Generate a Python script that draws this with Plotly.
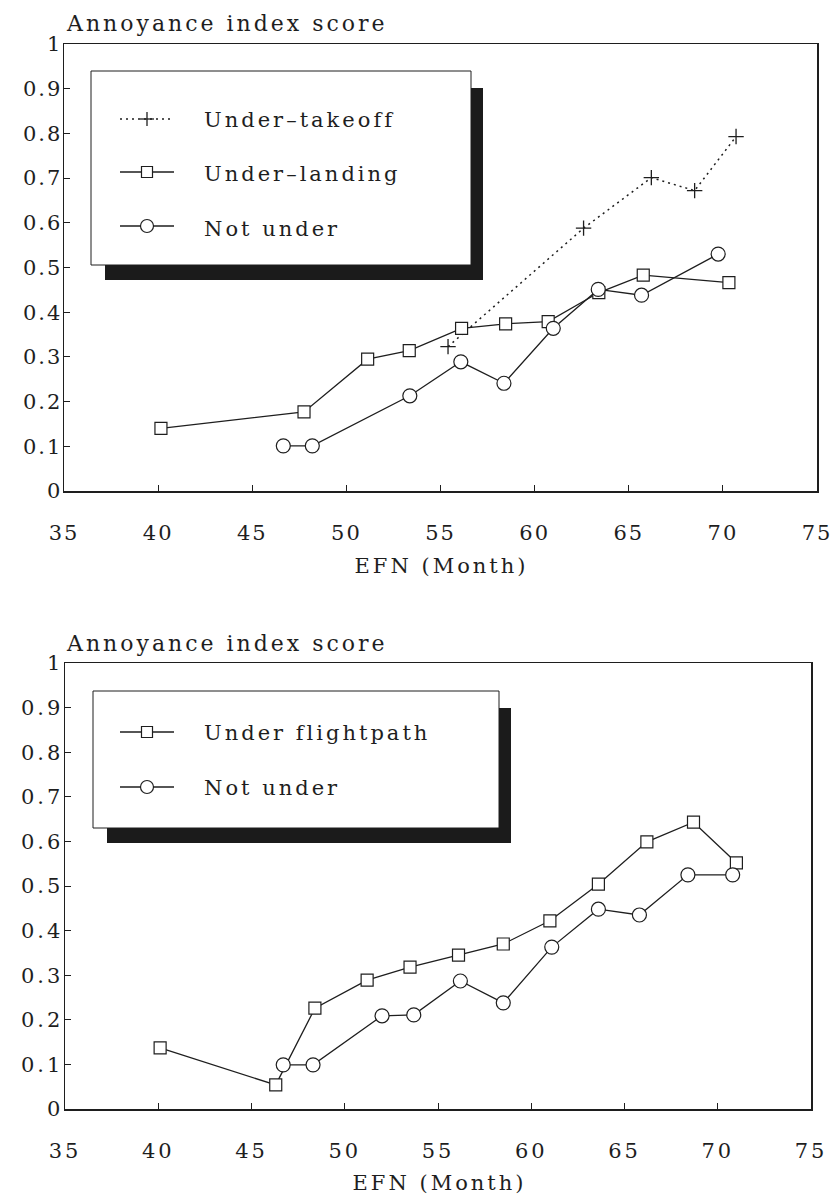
import plotly.graph_objects as go

W, H = 837, 1198

# ---------------- data ----------------
x_ticks = [35, 40, 45, 50, 55, 60, 65, 70, 75]
y_ticks = [0, 0.1, 0.2, 0.3, 0.4, 0.5, 0.6, 0.7, 0.8, 0.9, 1]
y_ticklabels = ["0", "0.1", "0.2", "0.3", "0.4", "0.5", "0.6", "0.7", "0.8", "0.9", "1"]

# Top panel
takeoff_x = [55.4, 62.6, 66.2, 68.5, 70.7]
takeoff_y = [0.323, 0.588, 0.701, 0.672, 0.793]
landing_x = [40.15, 47.75, 51.13, 53.34, 56.12, 58.46, 60.72, 63.41, 65.77, 70.32]
landing_y = [0.140, 0.177, 0.295, 0.314, 0.364, 0.374, 0.379, 0.444, 0.483, 0.466]
notunder_top_x = [46.65, 48.19, 53.37, 56.08, 58.37, 60.99, 63.38, 65.68, 69.75]
notunder_top_y = [0.101, 0.101, 0.213, 0.289, 0.241, 0.364, 0.451, 0.438, 0.530]

# Bottom panel
flightpath_x = [40.1, 46.3, 48.4, 51.2, 53.5, 56.1, 58.5, 61.0, 63.6, 66.2, 68.7, 71.0]
flightpath_y = [0.137, 0.054, 0.226, 0.289, 0.318, 0.345, 0.370, 0.422, 0.504, 0.599, 0.643, 0.552]
notunder_bot_x = [46.7, 48.3, 52.0, 53.7, 56.2, 58.5, 61.1, 63.6, 65.8, 68.4, 70.8]
notunder_bot_y = [0.099, 0.099, 0.209, 0.211, 0.287, 0.238, 0.363, 0.448, 0.435, 0.525, 0.525]

y_title = "Annoyance index score"
x_title = "EFN (Month)"
top_names = ["Under\u2013takeoff", "Under\u2013landing", "Not under"]
bot_names = ["Under flightpath", "Not under"]

# ---------------- styling ----------------
INK = "#1e1e1e"
FONT = "DejaVu Serif"
FS = 21


def px(x):
    return x / W


def py(y):
    return 1 - y / H


fig = go.Figure()

line_style = dict(color=INK, width=1.3)
sq_marker = dict(symbol="square", size=12, color="white", line=dict(color=INK, width=1.2))
ci_marker = dict(symbol="circle", size=14, color="white", line=dict(color=INK, width=1.2))
pl_marker = dict(symbol="cross-thin", size=11, color=INK, line=dict(color=INK, width=1.3))
DOTS = "2px,4px"

# top panel traces
fig.add_trace(go.Scatter(x=takeoff_x, y=takeoff_y, mode="lines+markers", name=top_names[0],
                         line=dict(color=INK, width=1.5, dash=DOTS), marker=pl_marker,
                         xaxis="x", yaxis="y"))
fig.add_trace(go.Scatter(x=landing_x, y=landing_y, mode="lines+markers", name=top_names[1],
                         line=line_style, marker=sq_marker, xaxis="x", yaxis="y"))
fig.add_trace(go.Scatter(x=notunder_top_x, y=notunder_top_y, mode="lines+markers", name=top_names[2],
                         line=line_style, marker=ci_marker, xaxis="x", yaxis="y"))

# bottom panel traces
fig.add_trace(go.Scatter(x=flightpath_x, y=flightpath_y, mode="lines+markers", name=bot_names[0],
                         line=line_style, marker=sq_marker, xaxis="x2", yaxis="y2"))
fig.add_trace(go.Scatter(x=notunder_bot_x, y=notunder_bot_y, mode="lines+markers", name=bot_names[1],
                         line=line_style, marker=ci_marker, xaxis="x2", yaxis="y2"))

# ---------------- custom legends (shapes in pixel-derived paper coords) ----------------
shapes = []


def rect(x0, y0, x1, y1, fill, lw=0):
    shapes.append(dict(type="rect", xref="paper", yref="paper", layer="above",
                       x0=px(x0), x1=px(x1), y0=py(y1), y1=py(y0),
                       fillcolor=fill, line=dict(color=INK, width=lw)))


def seg(x0, y0, x1, y1, width=1.3, dash="solid"):
    shapes.append(dict(type="line", xref="paper", yref="paper", layer="above",
                       x0=px(x0), x1=px(x1), y0=py(y0), y1=py(y1),
                       line=dict(color=INK, width=width, dash=dash)))


def legend_box(x0, y0, x1, y1):
    rect(x0 + 14, y0 + 17, x1 + 12, y1 + 15, "#1b1b1b")
    rect(x0, y0, x1, y1, "white", 1)


def sample(y, kind):
    cx = 147
    if kind == "plus":
        seg(120, y, 174, y, 1.3, DOTS)
        seg(cx - 7, y, cx + 7, y, 1.3)
        seg(cx, y - 7, cx, y + 7, 1.3)
    elif kind == "square":
        seg(120, y, 174, y)
        rect(cx - 5.5, y - 5.5, cx + 5.5, y + 5.5, "white", 1.2)
    else:
        seg(120, y, 174, y)
        shapes.append(dict(type="circle", xref="paper", yref="paper", layer="above",
                           x0=px(cx - 6.5), x1=px(cx + 6.5), y0=py(y + 6.5), y1=py(y - 6.5),
                           fillcolor="white", line=dict(color=INK, width=1.2)))


legend_box(91, 71, 471, 265)
for yy, k in zip([119, 172, 226], ["plus", "square", "circle"]):
    sample(yy, k)
legend_box(93, 691, 499, 828)
for yy, k in zip([732, 787], ["square", "circle"]):
    sample(yy, k)

annotations = []


def text(x, y, s, xanchor="left", size=FS):
    annotations.append(dict(x=px(x), y=py(y), xref="paper", yref="paper", text=s,
                            showarrow=False, xanchor=xanchor, yanchor="middle",
                            align="left" if xanchor == "left" else "center",
                            font=dict(family=FONT, size=size, color=INK)))


for name, yy in zip(top_names, [120, 174, 229]):
    text(202, yy, name)
for name, yy in zip(bot_names, [733, 788]):
    text(202, yy, name)

text(64, 23, y_title, size=22)
text(64, 643, y_title, size=22)
text(441, 566, x_title, "center")
text(439, 1183, x_title, "center")

# ---------------- axes ----------------
common = dict(showline=True, linecolor=INK, linewidth=1.5, mirror=True,
              ticks="inside", ticklen=6, tickwidth=1, tickcolor=INK,
              showgrid=False, zeroline=False, automargin=False,
              tickfont=dict(family=FONT, size=FS, color=INK))
xcommon = dict(common, range=[35, 75], tickvals=x_ticks, ticktext=[str(v) for v in x_ticks],
               ticklabelstandoff=22)
ycommon = dict(common, range=[0, 1], tickvals=y_ticks, ticktext=y_ticklabels,
               ticklabelstandoff=-4)

fig.update_layout(
    width=W, height=H, margin=dict(l=0, r=0, t=0, b=0, autoexpand=False),
    paper_bgcolor="white", plot_bgcolor="rgba(0,0,0,0)", showlegend=False,
    xaxis=dict(xcommon, domain=[px(64), px(817)], anchor="y"),
    yaxis=dict(ycommon, domain=[py(491), py(44)], anchor="x"),
    xaxis2=dict(xcommon, domain=[px(65), px(811)], anchor="y2"),
    yaxis2=dict(ycommon, domain=[py(1109), py(663)], anchor="x2"),
    shapes=shapes, annotations=annotations,
)

post = """
var gd = document.getElementById('{plot_id}');
gd.querySelectorAll('text').forEach(function(t){
  if (t.closest('.xtick') || t.closest('.ytick')) { t.style.letterSpacing = '2px'; }
  else { t.style.letterSpacing = '3px'; }
});
"""

fig.write_html("out.html", post_script=post, config={"staticPlot": True})
